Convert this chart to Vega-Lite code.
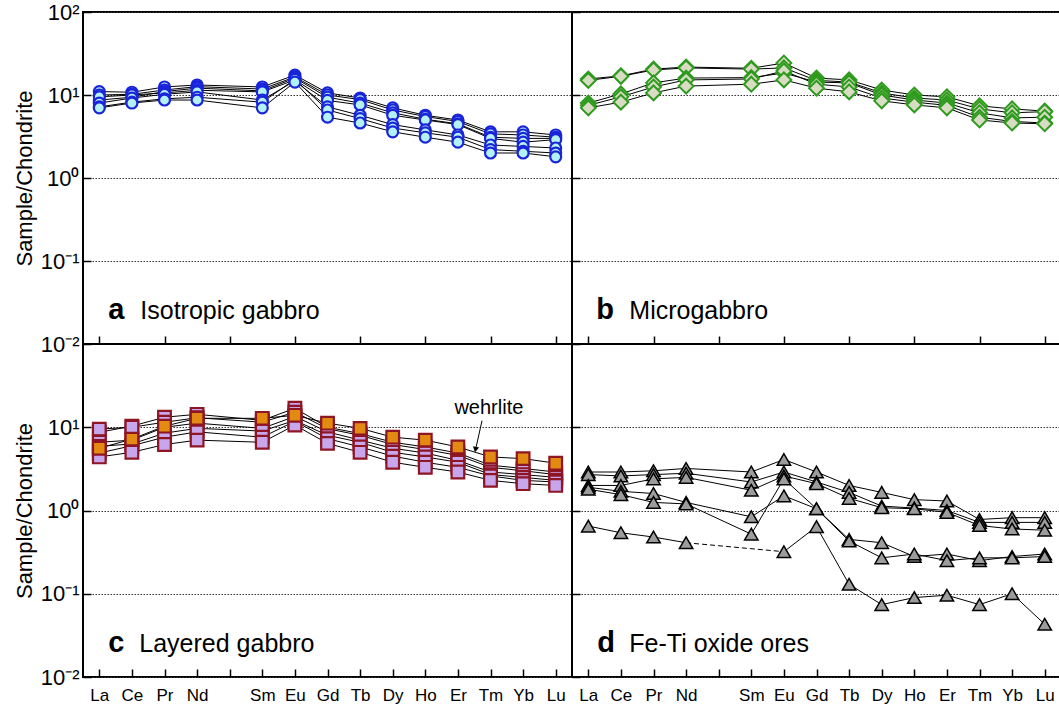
{
  "$schema": "https://vega.github.io/schema/vega-lite/v6.json",
  "padding": {"left": 12, "top": 0, "right": 0, "bottom": 0},
  "bounds": "flush",
  "spacing": 0,
  "columns": 2,
  "datasets": {
    "elements": [
      {"el": "La", "z": 57}, {"el": "Ce", "z": 58}, {"el": "Pr", "z": 59}, {"el": "Nd", "z": 60},
      {"el": "Sm", "z": 62}, {"el": "Eu", "z": 63}, {"el": "Gd", "z": 64}, {"el": "Tb", "z": 65},
      {"el": "Dy", "z": 66}, {"el": "Ho", "z": 67}, {"el": "Er", "z": 68}, {"el": "Tm", "z": 69},
      {"el": "Yb", "z": 70}, {"el": "Lu", "z": 71}
    ],
    "isotropic": [
      {"sample": "A1", "La": 11.0, "Ce": 10.8, "Pr": 12.5, "Nd": 13.2, "Sm": 12.5, "Eu": 17.4, "Gd": 10.6, "Tb": 9.2, "Dy": 7.0, "Ho": 5.7, "Er": 5.0, "Tm": 3.6, "Yb": 3.6, "Lu": 3.3},
      {"sample": "A2", "La": 10.0, "Ce": 10.2, "Pr": 11.5, "Nd": 12.6, "Sm": 11.8, "Eu": 16.5, "Gd": 10.0, "Tb": 8.8, "Dy": 6.6, "Ho": 5.5, "Er": 4.8, "Tm": 3.4, "Yb": 3.3, "Lu": 3.1},
      {"sample": "A3", "La": 8.7, "Ce": 9.4, "Pr": 11.0, "Nd": 12.1, "Sm": 11.2, "Eu": 16.0, "Gd": 9.4, "Tb": 8.0, "Dy": 6.1, "Ho": 5.1, "Er": 4.5, "Tm": 3.1, "Yb": 3.0, "Lu": 3.0},
      {"sample": "A4", "La": 9.5, "Ce": 10.0, "Pr": 10.6, "Nd": 11.4, "Sm": 10.9, "Eu": 15.2, "Gd": 8.6, "Tb": 7.6, "Dy": 5.7, "Ho": 5.0, "Er": 4.4, "Tm": 3.0, "Yb": 2.7, "Lu": 2.9},
      {"sample": "A5", "La": 8.0, "Ce": 9.2, "Pr": 10.2, "Nd": 10.9, "Sm": 8.7, "Eu": 14.8, "Gd": 7.2, "Tb": 5.7, "Dy": 4.4, "Ho": 3.8, "Er": 3.3, "Tm": 2.5, "Yb": 2.4, "Lu": 2.3},
      {"sample": "A6", "La": 7.2, "Ce": 8.2, "Pr": 9.0, "Nd": 9.4, "Sm": 8.2, "Eu": 15.4, "Gd": 6.6, "Tb": 5.2, "Dy": 4.0, "Ho": 3.5, "Er": 3.1, "Tm": 2.2, "Yb": 2.1, "Lu": 2.0},
      {"sample": "A7", "La": 7.0, "Ce": 8.0, "Pr": 8.7, "Nd": 8.7, "Sm": 7.0, "Eu": 14.3, "Gd": 5.4, "Tb": 4.6, "Dy": 3.6, "Ho": 3.1, "Er": 2.7, "Tm": 2.0, "Yb": 2.0, "Lu": 1.8}
    ],
    "micro": [
      {"sample": "B1", "La": 15.6, "Ce": 17.0, "Pr": 20.5, "Nd": 21.7, "Sm": 21.0, "Eu": 24.3, "Gd": 16.0, "Tb": 15.2, "Dy": 11.5, "Ho": 10.0, "Er": 9.5, "Tm": 7.4, "Yb": 6.8, "Lu": 6.4},
      {"sample": "B2", "La": 15.0, "Ce": 16.8, "Pr": 20.0, "Nd": 21.2, "Sm": 20.5, "Eu": 21.2, "Gd": 15.0, "Tb": 14.3, "Dy": 10.6, "Ho": 9.2, "Er": 8.7, "Tm": 6.8, "Yb": 6.1, "Lu": 6.3},
      {"sample": "B3", "La": 8.0, "Ce": 10.3, "Pr": 14.0, "Nd": 16.0, "Sm": 16.2, "Eu": 18.4, "Gd": 14.3, "Tb": 14.0, "Dy": 10.0, "Ho": 8.7, "Er": 8.0, "Tm": 6.1, "Yb": 5.3, "Lu": 5.4},
      {"sample": "B4", "La": 7.5, "Ce": 9.5, "Pr": 12.5, "Nd": 15.2, "Sm": 15.6, "Eu": 19.5, "Gd": 13.5, "Tb": 12.5, "Dy": 9.2, "Ho": 8.2, "Er": 7.5, "Tm": 5.4, "Yb": 4.8, "Lu": 4.6},
      {"sample": "B5", "La": 7.0, "Ce": 8.2, "Pr": 10.6, "Nd": 12.8, "Sm": 13.5, "Eu": 15.2, "Gd": 12.1, "Tb": 10.9, "Dy": 8.5, "Ho": 7.6, "Er": 7.0, "Tm": 5.0, "Yb": 4.6, "Lu": 4.5}
    ],
    "layered": [
      {"sample": "C1", "rock": "layered gabbro", "La": 8.7, "Ce": 10.3, "Pr": 13.2, "Nd": 14.3, "Sm": 12.1, "Eu": 16.9, "Gd": 10.0, "Tb": 8.4, "Dy": 6.6, "Ho": 5.8, "Er": 4.9, "Tm": 3.5, "Yb": 3.2, "Lu": 2.9},
      {"sample": "C2", "rock": "layered gabbro", "La": 9.5, "Ce": 10.0, "Pr": 11.5, "Nd": 13.0, "Sm": 11.5, "Eu": 15.2, "Gd": 9.6, "Tb": 8.0, "Dy": 6.2, "Ho": 5.4, "Er": 4.6, "Tm": 3.3, "Yb": 3.0, "Lu": 2.7},
      {"sample": "C3", "rock": "layered gabbro", "La": 6.6, "Ce": 7.0, "Pr": 10.0, "Nd": 11.2, "Sm": 9.7, "Eu": 13.5, "Gd": 8.8, "Tb": 7.0, "Dy": 5.6, "Ho": 4.9, "Er": 4.0, "Tm": 2.9, "Yb": 2.7, "Lu": 2.5},
      {"sample": "C4", "rock": "layered gabbro", "La": 5.9, "Ce": 6.3, "Pr": 8.5, "Nd": 9.7, "Sm": 9.0, "Eu": 12.1, "Gd": 8.0, "Tb": 6.6, "Dy": 5.0, "Ho": 4.4, "Er": 3.8, "Tm": 2.7, "Yb": 2.5, "Lu": 2.3},
      {"sample": "C5", "rock": "layered gabbro", "La": 4.9, "Ce": 6.0, "Pr": 7.6, "Nd": 8.8, "Sm": 7.6, "Eu": 11.8, "Gd": 7.3, "Tb": 5.8, "Dy": 4.5, "Ho": 3.8, "Er": 3.3, "Tm": 2.6, "Yb": 2.3, "Lu": 2.2},
      {"sample": "C6", "rock": "layered gabbro", "La": 4.4, "Ce": 5.0, "Pr": 6.2, "Nd": 7.0, "Sm": 6.6, "Eu": 10.6, "Gd": 6.4, "Tb": 5.0, "Dy": 3.8, "Ho": 3.3, "Er": 2.9, "Tm": 2.3, "Yb": 2.1, "Lu": 2.0},
      {"sample": "W1", "rock": "wehrlite", "La": 5.6, "Ce": 7.2, "Pr": 10.3, "Nd": 12.8, "Sm": 12.8, "Eu": 13.9, "Gd": 11.2, "Tb": 9.7, "Dy": 7.6, "Ho": 7.0, "Er": 5.8, "Tm": 4.4, "Yb": 4.2, "Lu": 3.7}
    ],
    "ores": [
      {"sample": "D1", "La": 2.9, "Ce": 2.9, "Pr": 3.0, "Nd": 3.2, "Sm": 2.9, "Eu": 4.1, "Gd": 2.9, "Tb": 2.0, "Dy": 1.65, "Ho": 1.35, "Er": 1.3, "Tm": 0.78, "Yb": 0.82, "Lu": 0.82},
      {"sample": "D2", "La": 2.7, "Ce": 2.6, "Pr": 2.7, "Nd": 2.8, "Sm": 2.2, "Eu": 2.9, "Gd": 2.2, "Tb": 1.65, "Dy": 1.13, "Ho": 1.07, "Er": 1.0, "Tm": 0.72, "Yb": 0.72, "Lu": 0.72},
      {"sample": "D3", "La": 2.0, "Ce": 2.0, "Pr": 2.4, "Nd": 2.5, "Sm": 1.75, "Eu": 2.6, "Gd": 2.1, "Tb": 1.4, "Dy": 1.08, "Ho": 1.05, "Er": 0.95, "Tm": 0.66, "Yb": 0.6, "Lu": 0.58},
      {"sample": "D4", "La": 1.9, "Ce": 1.7, "Pr": 1.6, "Nd": 1.25, "Sm": 0.84, "Eu": 1.5, "Gd": 1.05, "Tb": 0.45, "Dy": 0.41, "Ho": 0.28, "Er": 0.3, "Tm": 0.25, "Yb": 0.28, "Lu": 0.3},
      {"sample": "D5", "La": 1.8, "Ce": 1.55, "Pr": 1.25, "Nd": 1.2, "Sm": 0.52, "Eu": 2.4, "Gd": 1.05, "Tb": 0.43, "Dy": 0.27, "Ho": 0.3, "Er": 0.25, "Tm": 0.27, "Yb": 0.27, "Lu": 0.28},
      {"sample": "D6", "La": 0.65, "Ce": 0.54, "Pr": 0.48, "Nd": 0.41, "Sm": null, "Eu": 0.32, "Gd": 0.64, "Tb": 0.13, "Dy": 0.074, "Ho": 0.09, "Er": 0.096, "Tm": 0.074, "Yb": 0.1, "Lu": 0.043}
    ],
    "captions": [
      {"panel": "a", "name": "Isotropic gabbro"},
      {"panel": "b", "name": "Microgabbro"},
      {"panel": "c", "name": "Layered gabbro"},
      {"panel": "d", "name": "Fe-Ti oxide ores"}
    ]
  },
  "concat": [
    {
      "width": 489, "height": 332,
      "layer": [
        {"data": {"name": "isotropic"},
         "transform": [
           {"fold": ["La", "Ce", "Pr", "Nd", "Sm", "Eu", "Gd", "Tb", "Dy", "Ho", "Er", "Tm", "Yb", "Lu"], "as": ["el", "v"]},
           {"lookup": "el", "from": {"data": {"name": "elements"}, "key": "el", "fields": ["z"]}}
         ],
         "encoding": {
           "x": {"field": "z", "type": "quantitative", "scale": {"domain": [56.5, 71.5], "nice": false, "zero": false},
                 "axis": {"values": [57, 58, 59, 60, 61, 62, 63, 64, 65, 66, 67, 68, 69, 70, 71], "labels": false, "title": null}},
           "y": {"field": "v", "type": "quantitative", "scale": {"type": "log", "domain": [0.01, 100], "nice": false},
                 "axis": {"values": [0.01, 0.1, 1, 10, 100], "title": "Sample/Chondrite", "labelOverlap": false,
                          "labelExpr": "datum.value > 50 ? '10²' : datum.value > 5 ? '10¹' : datum.value > 0.5 ? '10⁰' : datum.value > 0.05 ? '10⁻¹' : '10⁻²'"}},
           "detail": {"field": "sample"}
         },
         "layer": [
           {"mark": {"type": "line", "color": "black", "strokeWidth": 1}},
           {"mark": {"type": "point", "shape": "circle", "filled": true, "fill": "#b3f1f4", "stroke": "#1a24d8", "strokeWidth": 2.2, "size": 120, "opacity": 1}}
         ]},
        {"data": {"name": "captions"}, "transform": [{"filter": "datum.panel == 'a'"}],
         "mark": {"type": "text", "align": "left", "baseline": "alphabetic", "dx": 9, "fontSize": 29, "fontWeight": "bold"},
         "encoding": {"x": {"datum": 57}, "y": {"datum": 0.02}, "text": {"field": "panel"}}},
        {"data": {"name": "captions"}, "transform": [{"filter": "datum.panel == 'a'"}],
         "mark": {"type": "text", "align": "left", "baseline": "alphabetic", "dx": 41, "fontSize": 25},
         "encoding": {"x": {"datum": 57}, "y": {"datum": 0.02}, "text": {"field": "name"}}}
      ]
    },
    {
      "width": 489, "height": 332,
      "layer": [
        {"data": {"name": "micro"},
         "transform": [
           {"fold": ["La", "Ce", "Pr", "Nd", "Sm", "Eu", "Gd", "Tb", "Dy", "Ho", "Er", "Tm", "Yb", "Lu"], "as": ["el", "v"]},
           {"lookup": "el", "from": {"data": {"name": "elements"}, "key": "el", "fields": ["z"]}}
         ],
         "encoding": {
           "x": {"field": "z", "type": "quantitative", "scale": {"domain": [56.5, 71.5], "nice": false, "zero": false},
                 "axis": {"values": [57, 58, 59, 60, 61, 62, 63, 64, 65, 66, 67, 68, 69, 70, 71], "labels": false, "title": null}},
           "y": {"field": "v", "type": "quantitative", "scale": {"type": "log", "domain": [0.01, 100], "nice": false},
                 "axis": {"values": [0.01, 0.1, 1, 10, 100], "labels": false, "title": null}},
           "detail": {"field": "sample"}
         },
         "layer": [
           {"mark": {"type": "line", "color": "black", "strokeWidth": 1}},
           {"mark": {"type": "point", "shape": "diamond", "filled": true, "fill": "#d8dcc3", "stroke": "#2e9b1e", "strokeWidth": 2, "size": 220, "opacity": 1}}
         ]},
        {"data": {"name": "captions"}, "transform": [{"filter": "datum.panel == 'b'"}],
         "mark": {"type": "text", "align": "left", "baseline": "alphabetic", "dx": 8, "fontSize": 29, "fontWeight": "bold"},
         "encoding": {"x": {"datum": 57}, "y": {"datum": 0.02}, "text": {"field": "panel"}}},
        {"data": {"name": "captions"}, "transform": [{"filter": "datum.panel == 'b'"}],
         "mark": {"type": "text", "align": "left", "baseline": "alphabetic", "dx": 41, "fontSize": 25},
         "encoding": {"x": {"datum": 57}, "y": {"datum": 0.02}, "text": {"field": "name"}}}
      ]
    },
    {
      "width": 489, "height": 333,
      "layer": [
        {"data": {"name": "layered"},
         "transform": [
           {"fold": ["La", "Ce", "Pr", "Nd", "Sm", "Eu", "Gd", "Tb", "Dy", "Ho", "Er", "Tm", "Yb", "Lu"], "as": ["el", "v"]},
           {"lookup": "el", "from": {"data": {"name": "elements"}, "key": "el", "fields": ["z"]}}
         ],
         "encoding": {
           "x": {"field": "z", "type": "quantitative", "scale": {"domain": [56.5, 71.5], "nice": false, "zero": false},
                 "axis": {"values": [57, 58, 59, 60, 61, 62, 63, 64, 65, 66, 67, 68, 69, 70, 71], "title": null,
                          "labelOverlap": false, "labelFlush": false, "labelSeparation": 0,
                          "labelExpr": "['La','Ce','Pr','Nd','','Sm','Eu','Gd','Tb','Dy','Ho','Er','Tm','Yb','Lu'][datum.value - 57]"}},
           "y": {"field": "v", "type": "quantitative", "scale": {"type": "log", "domain": [0.01, 100], "nice": false},
                 "axis": {"values": [0.01, 0.1, 1, 10], "title": "Sample/Chondrite", "labelOverlap": false,
                          "labelExpr": "datum.value > 50 ? '10²' : datum.value > 5 ? '10¹' : datum.value > 0.5 ? '10⁰' : datum.value > 0.05 ? '10⁻¹' : '10⁻²'"}},
           "detail": {"field": "sample"}
         },
         "layer": [
           {"mark": {"type": "line", "color": "black", "strokeWidth": 1}},
           {"mark": {"type": "point", "shape": "square", "filled": true, "stroke": "#8e1524", "strokeWidth": 2.2, "size": 160, "opacity": 1},
            "encoding": {"fill": {"field": "rock", "type": "nominal", "scale": {"domain": ["layered gabbro", "wehrlite"], "range": ["#c7a6ec", "#e38a12"]}, "legend": null}}}
         ]},
        {"data": {"name": "captions"}, "transform": [{"filter": "datum.panel == 'c'"}],
         "layer": [
           {"mark": {"type": "text", "align": "left", "baseline": "alphabetic", "dx": 9, "fontSize": 29, "fontWeight": "bold"},
            "encoding": {"text": {"field": "panel"}}},
           {"mark": {"type": "text", "align": "left", "baseline": "alphabetic", "dx": 40, "fontSize": 25},
            "encoding": {"text": {"field": "name"}}}
         ],
         "encoding": {
           "x": {"datum": 57, "axis": {"values": [57, 58, 59, 60, 61, 62, 63, 64, 65, 66, 67, 68, 69, 70, 71], "title": null,
                 "labelOverlap": false, "labelFlush": false, "labelSeparation": 0,
                 "labelExpr": "['La','Ce','Pr','Nd','','Sm','Eu','Gd','Tb','Dy','Ho','Er','Tm','Yb','Lu'][datum.value - 57]"}},
           "y": {"datum": 0.02}
         }},
        {"data": {"values": [{"note": "wehrlite"}]},
         "layer": [
           {"mark": {"type": "text", "align": "center", "baseline": "middle", "fontSize": 20},
            "encoding": {"x": {"datum": 68.95, "axis": {"values": [57, 58, 59, 60, 61, 62, 63, 64, 65, 66, 67, 68, 69, 70, 71], "title": null,
                          "labelOverlap": false, "labelFlush": false, "labelSeparation": 0,
                          "labelExpr": "['La','Ce','Pr','Nd','','Sm','Eu','Gd','Tb','Dy','Ho','Er','Tm','Yb','Lu'][datum.value - 57]"}},
                         "y": {"datum": 17}, "text": {"field": "note"}}},
           {"mark": {"type": "rule", "color": "black", "strokeWidth": 1},
            "encoding": {"x": {"datum": 68.74, "axis": {"values": [57, 58, 59, 60, 61, 62, 63, 64, 65, 66, 67, 68, 69, 70, 71], "title": null,
                          "labelOverlap": false, "labelFlush": false, "labelSeparation": 0,
                          "labelExpr": "['La','Ce','Pr','Nd','','Sm','Eu','Gd','Tb','Dy','Ho','Er','Tm','Yb','Lu'][datum.value - 57]"}},
                         "y": {"datum": 12}, "x2": {"datum": 68.56}, "y2": {"datum": 5.8}}},
           {"mark": {"type": "point", "shape": "triangle-down", "filled": true, "color": "black", "size": 40, "angle": 12, "opacity": 1},
            "encoding": {"x": {"datum": 68.54, "axis": {"values": [57, 58, 59, 60, 61, 62, 63, 64, 65, 66, 67, 68, 69, 70, 71], "title": null,
                          "labelOverlap": false, "labelFlush": false, "labelSeparation": 0,
                          "labelExpr": "['La','Ce','Pr','Nd','','Sm','Eu','Gd','Tb','Dy','Ho','Er','Tm','Yb','Lu'][datum.value - 57]"}},
                         "y": {"datum": 5.4}}}
         ]}
      ]
    },
    {
      "width": 489, "height": 333,
      "layer": [
        {"data": {"name": "ores"},
         "transform": [
           {"fold": ["La", "Ce", "Pr", "Nd", "Sm", "Eu", "Gd", "Tb", "Dy", "Ho", "Er", "Tm", "Yb", "Lu"], "as": ["el", "v"]},
           {"lookup": "el", "from": {"data": {"name": "elements"}, "key": "el", "fields": ["z"]}}
         ],
         "encoding": {
           "x": {"field": "z", "type": "quantitative", "scale": {"domain": [56.5, 71.5], "nice": false, "zero": false},
                 "axis": {"values": [57, 58, 59, 60, 61, 62, 63, 64, 65, 66, 67, 68, 69, 70, 71], "title": null,
                          "labelOverlap": false, "labelFlush": false, "labelSeparation": 0,
                          "labelExpr": "['La','Ce','Pr','Nd','','Sm','Eu','Gd','Tb','Dy','Ho','Er','Tm','Yb','Lu'][datum.value - 57]"}},
           "y": {"field": "v", "type": "quantitative", "scale": {"type": "log", "domain": [0.01, 100], "nice": false},
                 "axis": {"values": [0.01, 0.1, 1, 10], "labels": false, "title": null}},
           "detail": {"field": "sample"}
         },
         "layer": [
           {"mark": {"type": "line", "color": "black", "strokeWidth": 1, "invalid": "break-paths-show-domains"}},
           {"transform": [{"filter": "datum.sample == 'D6' && (datum.el == 'Nd' || datum.el == 'Eu')"}],
            "mark": {"type": "line", "color": "black", "strokeWidth": 1, "strokeDash": [5, 3]}},
           {"mark": {"type": "point", "shape": "triangle-up", "filled": true, "fill": "#9c9c9c", "stroke": "black", "strokeWidth": 1.5, "size": 180, "opacity": 1}}
         ]},
        {"data": {"name": "captions"}, "transform": [{"filter": "datum.panel == 'd'"}],
         "layer": [
           {"mark": {"type": "text", "align": "left", "baseline": "alphabetic", "dx": 9, "fontSize": 29, "fontWeight": "bold"},
            "encoding": {"text": {"field": "panel"}}},
           {"mark": {"type": "text", "align": "left", "baseline": "alphabetic", "dx": 41, "fontSize": 25},
            "encoding": {"text": {"field": "name"}}}
         ],
         "encoding": {
           "x": {"datum": 57, "axis": {"values": [57, 58, 59, 60, 61, 62, 63, 64, 65, 66, 67, 68, 69, 70, 71], "title": null,
                 "labelOverlap": false, "labelFlush": false, "labelSeparation": 0,
                 "labelExpr": "['La','Ce','Pr','Nd','','Sm','Eu','Gd','Tb','Dy','Ho','Er','Tm','Yb','Lu'][datum.value - 57]"}},
           "y": {"datum": 0.02}
         }}
      ]
    }
  ],
  "config": {
    "font": "Liberation Sans",
    "view": {"stroke": "black", "strokeWidth": 2},
    "axis": {"domain": false, "ticks": true, "tickColor": "black", "tickWidth": 1.5, "tickSize": -8,
             "labelFont": "Liberation Sans", "titleFont": "Liberation Sans", "labelColor": "black", "titleColor": "black",
             "titleFontWeight": "normal", "labelOverlap": false},
    "axisY": {"grid": true, "gridColor": "#333", "gridDash": [1.5, 1.5], "gridWidth": 1, "labelFontSize": 22, "titleFontSize": 22,
              "labelPadding": 12, "titlePadding": 4},
    "axisX": {"grid": false, "labelFontSize": 17, "labelPadding": 18, "labelOverlap": false},
    "axisQuantitative": {"labelOverlap": false},
    "text": {"font": "Liberation Sans", "color": "black"}
  }
}
